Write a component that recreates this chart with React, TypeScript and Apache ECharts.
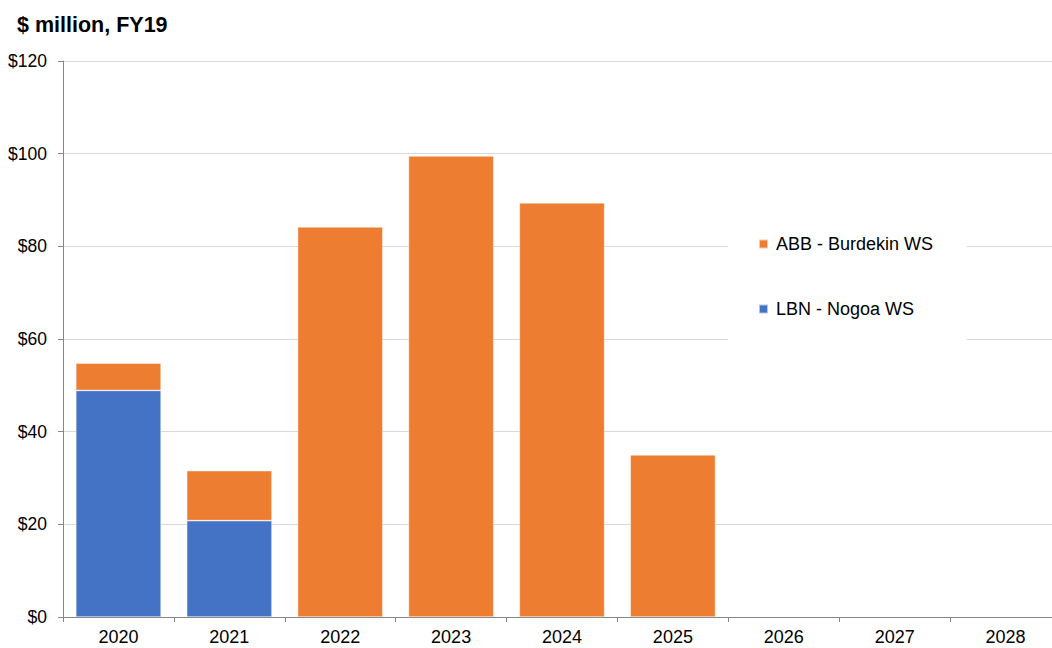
import React, { useEffect, useRef } from "react";
import * as echarts from "echarts";

const years = ["2020", "2021", "2022", "2023", "2024", "2025", "2026", "2027", "2028"];
const lbnNogoa = [48.9, 20.8, 0, 0, 0, 0, 0, 0, 0];
const abbBurdekin = [5.9, 10.8, 84.2, 99.5, 89.4, 35.0, 0, 0, 0];
const yTicks = [0, 20, 40, 60, 80, 100, 120];

const FONT = "'Liberation Sans', Arial, sans-serif";
const nz = (arr: number[]) => arr.map((v) => (v === 0 ? null : v));

export default function App() {
  const ref = useRef<HTMLDivElement>(null);
  useEffect(() => {
    if (!ref.current) return;
    const chart = echarts.init(ref.current, undefined, { renderer: "svg" });
    chart.setOption({
      animation: false,
      textStyle: { fontFamily: FONT },
      title: {
        text: "$ million, FY19",
        left: 12,
        top: 9,
        textStyle: { fontFamily: FONT, fontSize: 21.5, fontWeight: "bold", color: "#000" },
      },
      legend: {
        orient: "vertical",
        left: 728,
        top: 215,
        padding: [20, 34, 30, 30],
        backgroundColor: "#ffffff",
        itemGap: 47,
        itemWidth: 9,
        itemHeight: 9,
        icon: "rect",
        data: ["ABB - Burdekin WS", "LBN - Nogoa WS"],
        textStyle: { fontFamily: FONT, fontSize: 18, color: "#000", padding: [0, 0, 0, 3] },
      },
      grid: { left: 63, right: 0, top: 61, bottom: 31, containLabel: false },
      xAxis: {
        type: "category",
        data: years,
        axisLine: { lineStyle: { color: "#868686", width: 1 } },
        axisTick: { show: true, length: 5, lineStyle: { color: "#868686" } },
        axisLabel: { fontFamily: FONT, fontSize: 18, color: "#000", margin: 11 },
      },
      yAxis: {
        type: "value",
        min: yTicks[0],
        max: yTicks[yTicks.length - 1],
        interval: 20,
        axisLine: { show: true, lineStyle: { color: "#868686", width: 1 } },
        axisTick: { show: true, length: 5, lineStyle: { color: "#868686" } },
        axisLabel: {
          fontFamily: FONT,
          fontSize: 17.5,
          color: "#000",
          margin: 16,
          formatter: (v: number) => "$" + v,
        },
        splitLine: { show: true, lineStyle: { color: "#d9d9d9", width: 1 } },
      },
      series: [
        {
          name: "LBN - Nogoa WS",
          type: "bar",
          stack: "total",
          data: nz(lbnNogoa),
          barCategoryGap: "23%",
          itemStyle: { color: "#4472C4", borderColor: "rgba(255,255,255,0.6)", borderWidth: 0.75 },
        },
        {
          name: "ABB - Burdekin WS",
          type: "bar",
          stack: "total",
          data: nz(abbBurdekin),
          barCategoryGap: "23%",
          itemStyle: { color: "#ED7D31", borderColor: "rgba(255,255,255,0.6)", borderWidth: 0.75 },
        },
      ],
    });
    return () => chart.dispose();
  }, []);
  return (
    <div style={{ position: "absolute", left: 0, top: 0, width: 1052, height: 648, overflow: "hidden" }}>
      <div ref={ref} style={{ width: 1061, height: 648 }} />
    </div>
  );
}
